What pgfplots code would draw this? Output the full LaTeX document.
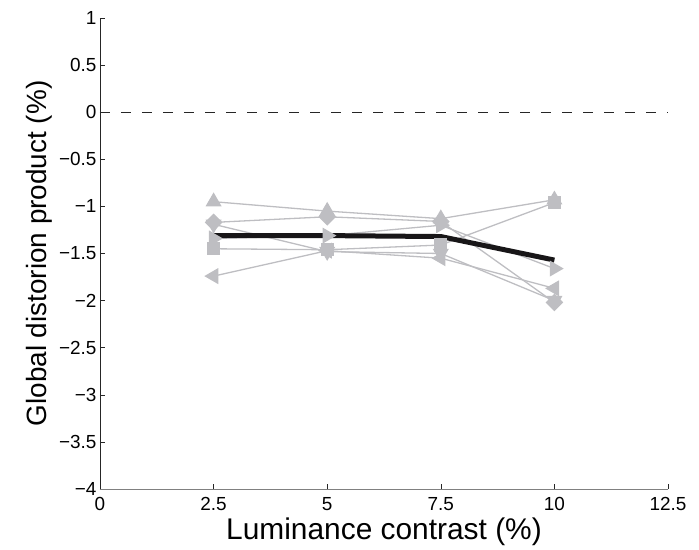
\documentclass[border=0pt]{standalone}
\usepackage{fontspec}
\setmainfont{Liberation Sans}
\usepackage{pgfplots}
\pgfplotsset{compat=1.18}
\definecolor{lg}{RGB}{190,190,194}
\definecolor{mk}{RGB}{24,22,24}
\begin{document}
\begin{tikzpicture}
\begin{axis}[
  scale only axis, width=568bp, height=471bp,
  xmin=0, xmax=12.5, ymin=-4, ymax=1,
  axis x line*=bottom, axis y line*=left,
  x axis line style={black!50, line width=1bp},
  y axis line style={black!85, line width=0.8bp},
  xtick={0,2.5,5,7.5,10,12.5}, xticklabels={0,2.5,5,7.5,10,12.5},
  ytick={-4,-3.5,-3,-2.5,-2,-1.5,-1,-0.5,0,0.5,1},
  yticklabels={−4,−3.5,−3,−2.5,−2,−1.5,−1,−0.5,0,0.5,1},
  tick align=inside, major tick length=5bp,
  tick style={black!85, line width=0.6bp},
  tick label style={font=\fontsize{19}{19}\selectfont},
  xticklabel style={yshift=-5bp},
  xlabel style={font=\fontsize{30}{30}\selectfont, yshift=0bp},
  ylabel style={font=\fontsize{28}{28}\selectfont},
  xlabel={Luminance contrast (\%)},
  ylabel={Global distorion product (\%)},
  clip=false,
  every axis plot/.append style={lg, line width=1.3bp, mark size=8bp},
]
\addplot[black!85, line width=0.8bp, dash pattern=on 10bp off 11bp, mark=none] coordinates {(0,0) (12.5,0)};
\addplot[lg, mark=triangle*, mark options={fill=lg, draw=lg}] coordinates {(2.5,-0.95) (5,-1.05) (7.5,-1.13) (10,-0.93)};
\addplot[lg, mark=square*, mark size=5.6bp, mark options={fill=lg, draw=lg, rotate=45}] coordinates {(2.5,-1.17) (5,-1.11) (7.5,-1.16) (10,-2.02)};
\addplot[lg, mark=triangle*, mark options={fill=lg, draw=lg, rotate=-90}] coordinates {(2.5,-1.34) (5,-1.31) (7.5,-1.20) (10,-1.66)};
\addplot[lg, mark=square*, mark size=6bp, mark options={fill=lg, draw=lg}] coordinates {(2.5,-1.45) (5,-1.46) (7.5,-1.41) (10,-0.96)};
\addplot[lg, mark=triangle*, mark options={fill=lg, draw=lg, rotate=90}] coordinates {(2.5,-1.74) (5,-1.47) (7.5,-1.55) (10,-1.87)};
\addplot[lg, mark=triangle*, mark options={fill=lg, draw=lg, rotate=180}] coordinates {(2.5,-1.19) (5,-1.48) (7.5,-1.50) (10,-2.00)};
\addplot[mk, line width=5bp, mark=none] coordinates {(2.5,-1.31) (5,-1.31) (7.5,-1.32) (10,-1.57)};
\end{axis}
\path[use as bounding box] ([xshift=-100bp,yshift=-61bp]current axis.south west) rectangle ([xshift=31bp,yshift=18bp]current axis.north east);
\end{tikzpicture}
\end{document}
